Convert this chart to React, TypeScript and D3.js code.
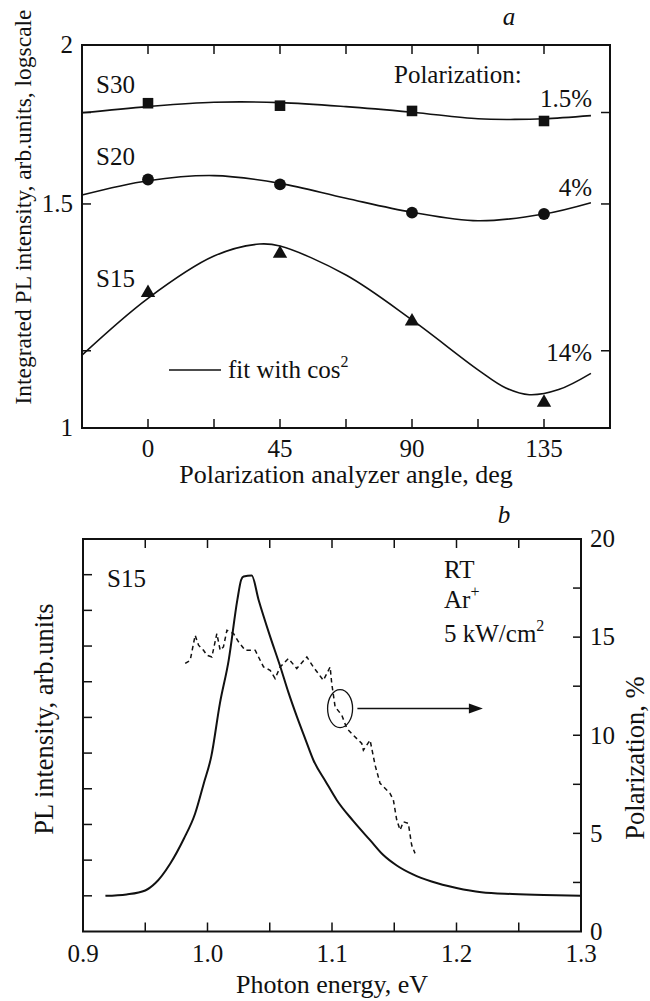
import React from 'react';
import * as d3 from 'd3';

// panel a: integrated PL vs analyzer angle
const angles = [0, 45, 90, 135];
const s30 = [1.8, 1.792, 1.775, 1.743];
const s20 = [1.568, 1.554, 1.4765, 1.473];
const s15 = [1.277, 1.371, 1.213, 1.047];

// cos^2 fit curves: [angle, value]
const fit30: [number, number][] = [[-22.5, 1.769], [0, 1.789], [22.5, 1.803], [45, 1.802], [67.5, 1.789], [90, 1.771], [112.5, 1.75], [125, 1.748], [135, 1.75], [151, 1.76]];
const fit20: [number, number][] = [[-22.5, 1.5245], [0, 1.5645], [22.5, 1.579], [45, 1.557], [67.5, 1.5155], [90, 1.4777], [112.5, 1.455], [135, 1.473], [151, 1.5035]];
const fit15: [number, number][] = [[-22.5, 1.141], [0, 1.2645], [22.5, 1.365], [38, 1.395], [45, 1.39], [67.5, 1.319], [90, 1.216], [112.5, 1.111], [122, 1.075], [130, 1.062], [140, 1.072], [151, 1.104]];

const angleTicks = [0, 22.5, 45, 67.5, 90, 112.5, 135];
const angleLabels = [0, 45, 90, 135];
const logTicks = [1, 1.5, 2];
const logMinor = [1.15, 1.77];

// panel b: PL spectrum and polarization
const plEnergy = [0.918, 0.935, 0.95, 0.958, 0.97, 0.981, 0.99, 0.997, 1.003, 1.01, 1.017, 1.024, 1.027, 1.029, 1.0355, 1.041, 1.05, 1.0585, 1.065, 1.0718, 1.0785, 1.0851, 1.095, 1.1039, 1.117, 1.1306, 1.141, 1.152, 1.165, 1.18, 1.2, 1.22, 1.245, 1.27, 1.3];
const plIntensity = [1.0, 1.04, 1.15, 1.35, 1.9, 2.6, 3.3, 4.15, 4.9, 6.4, 7.6, 9.3, 9.85, 9.95, 9.98, 9.3, 8.3, 7.42, 6.7, 6.02, 5.4, 4.8, 4.2, 3.68, 3.1, 2.56, 2.15, 1.85, 1.6, 1.4, 1.22, 1.1, 1.05, 1.02, 1.0];

const polEnergy = [0.9821, 0.9861, 0.9901, 0.9928, 0.9968, 0.9995, 1.0035, 1.0075, 1.0102, 1.0128, 1.0156, 1.0182, 1.0209, 1.0249, 1.0303, 1.0383, 1.045, 1.0503, 1.0543, 1.0584, 1.065, 1.0717, 1.0798, 1.085, 1.0931, 1.0985, 1.0998, 1.1025, 1.1079, 1.1119, 1.1172, 1.1239, 1.1252, 1.1306, 1.1346, 1.1386, 1.1466, 1.1493, 1.152, 1.1547, 1.1573, 1.1613, 1.164, 1.1667];
const polValue = [13.66, 13.82, 15.1, 14.59, 14.33, 14.08, 13.99, 15.18, 14.33, 14.5, 15.35, 15.27, 15.18, 14.76, 14.33, 14.33, 13.48, 13.31, 12.89, 13.48, 13.91, 13.4, 13.99, 13.48, 12.8, 13.48, 12.63, 11.45, 11.02, 10.35, 10.0, 9.58, 9.24, 9.75, 8.48, 7.55, 7.04, 6.7, 5.68, 5.17, 5.59, 5.51, 4.4, 3.98];

const energyTicks = [0.95, 1.0, 1.05, 1.1, 1.15, 1.2, 1.25];
const energyLabels = [0.9, 1.0, 1.1, 1.2, 1.3];
const plTicks = [1, 2, 3, 4, 5, 6, 7, 8, 9, 10];
const polTicks = [2.5, 5, 7.5, 10, 12.5, 15, 17.5];
const polLabels = [0, 5, 10, 15, 20];

// circled region and arrow (points to right axis)
const circleAt = { e: 1.1065, p: 11.36 };
const arrowFrom = 1.1204;
const arrowTo = 1.2212;

const font = '"Liberation Serif", "Times New Roman", serif';

export default function App() {
  // panel a
  const xA = d3.scaleLinear().domain([-22.5, 157.5]).range([82, 610]);
  const yA = d3.scaleLog().domain([1, 2]).range([428, 45]);
  const fitLine = d3.line<[number, number]>()
    .x(d => xA(d[0]))
    .y(d => yA(d[1]))
    .curve(d3.curveCatmullRom.alpha(0.5));

  // panel b
  const xB = d3.scaleLinear().domain([0.9, 1.3]).range([83, 581]);
  const yL = d3.scaleLinear().domain([0, 11]).range([931.5, 539]);
  const yR = d3.scaleLinear().domain([0, 20]).range([931.5, 539]);

  const plLine = d3.line<number>()
    .x((_, i) => xB(plEnergy[i]))
    .y(d => yL(d))
    .curve(d3.curveMonotoneX);
  const polLine = d3.line<number>()
    .x((_, i) => xB(polEnergy[i]))
    .y(d => yR(d));

  const sq = d3.symbol(d3.symbolSquare, 112)();
  const circ = d3.symbol(d3.symbolCircle, 110)();
  const tri = d3.symbol(d3.symbolTriangle, 90)();

  const [aL, aR] = xA.range();
  const [aB, aT] = yA.range();
  const [bL, bR] = xB.range();
  const [bB, bT] = yL.range();

  const txt = { fontFamily: font, fill: '#111' };
  const ay = yR(circleAt.p);

  return (
    <svg width={650} height={1001} style={{ position: 'absolute', left: 0, top: 0, background: '#fff' }}>
      {/* ---------- panel a ---------- */}
      <text x={509} y={25} fontSize={25} fontStyle="italic" textAnchor="middle" {...txt}>a</text>
      <rect x={aL} y={aT} width={aR - aL} height={aB - aT} fill="none" stroke="#111" strokeWidth={2} />
      {angleTicks.map(t => (
        <g key={'at' + t} stroke="#111" strokeWidth={1.5}>
          <line x1={xA(t)} x2={xA(t)} y1={aT} y2={aT + 9} />
          <line x1={xA(t)} x2={xA(t)} y1={aB} y2={aB - 9} />
        </g>
      ))}
      {[...logTicks, ...logMinor].map(t => (
        <g key={'ly' + t} stroke="#111" strokeWidth={1.5}>
          <line x1={aL} x2={aL + 9} y1={yA(t)} y2={yA(t)} />
          <line x1={aR} x2={aR - 9} y1={yA(t)} y2={yA(t)} />
        </g>
      ))}
      {angleLabels.map(t => (
        <text key={'al' + t} x={xA(t)} y={457} fontSize={25} textAnchor="middle" {...txt}>{t}</text>
      ))}
      {logTicks.map(t => (
        <text key={'ll' + t} x={73} y={yA(t)} dy="0.33em" fontSize={25} textAnchor="end" {...txt}>{t}</text>
      ))}
      <text x={346} y={483} fontSize={26} textAnchor="middle" {...txt}>Polarization analyzer angle, deg</text>
      <text transform={`translate(31,207) rotate(-90)`} fontSize={23.5} textAnchor="middle" {...txt}>
        Integrated PL intensity, arb.units, logscale
      </text>

      <path d={fitLine(fit30) ?? ''} fill="none" stroke="#111" strokeWidth={1.6} />
      <path d={fitLine(fit20) ?? ''} fill="none" stroke="#111" strokeWidth={1.6} />
      <path d={fitLine(fit15) ?? ''} fill="none" stroke="#111" strokeWidth={1.6} />
      {angles.map((a, i) => (
        <g key={'m' + a} fill="#111">
          <path d={sq ?? ''} transform={`translate(${xA(a)},${yA(s30[i])})`} />
          <path d={circ ?? ''} transform={`translate(${xA(a)},${yA(s20[i])})`} />
          <path d={tri ?? ''} transform={`translate(${xA(a)},${yA(s15[i])})`} />
        </g>
      ))}

      <text x={96} y={93} fontSize={25} {...txt}>S30</text>
      <text x={96} y={165} fontSize={25} {...txt}>S20</text>
      <text x={96} y={287} fontSize={25} {...txt}>S15</text>
      <text x={394} y={83} fontSize={25} {...txt}>Polarization:</text>
      <text x={592} y={107} fontSize={25} textAnchor="end" {...txt}>1.5%</text>
      <text x={592} y={196} fontSize={25} textAnchor="end" {...txt}>4%</text>
      <text x={592} y={361} fontSize={25} textAnchor="end" {...txt}>14%</text>
      <line x1={169} x2={221} y1={370} y2={370} stroke="#111" strokeWidth={1.6} />
      <text x={228} y={378} fontSize={25} {...txt}>
        fit with cos<tspan fontSize={16} dy={-11}>2</tspan>
      </text>

      {/* ---------- panel b ---------- */}
      <text x={504} y={523} fontSize={25} fontStyle="italic" textAnchor="middle" {...txt}>b</text>
      <rect x={bL} y={bT} width={bR - bL} height={bB - bT} fill="none" stroke="#111" strokeWidth={2} />
      {energyTicks.map(t => (
        <g key={'et' + t} stroke="#111" strokeWidth={1.5}>
          <line x1={xB(t)} x2={xB(t)} y1={bT} y2={bT + 9} />
          <line x1={xB(t)} x2={xB(t)} y1={bB} y2={bB - 9} />
        </g>
      ))}
      {plTicks.map(t => (
        <line key={'pt' + t} x1={bL} x2={bL + 9} y1={yL(t)} y2={yL(t)} stroke="#111" strokeWidth={1.5} />
      ))}
      {polTicks.map(t => (
        <line key={'rt' + t} x1={bR} x2={bR - 8} y1={yR(t)} y2={yR(t)} stroke="#111" strokeWidth={1.5} />
      ))}
      {energyLabels.map(t => (
        <text key={'el' + t} x={xB(t)} y={962} fontSize={25} textAnchor="middle" {...txt}>{t.toFixed(1)}</text>
      ))}
      {polLabels.map(t => (
        <text key={'rl' + t} x={590} y={yR(t)} dy="0.33em" fontSize={25} {...txt}>{t}</text>
      ))}
      <text x={(bL + bR) / 2} y={993} fontSize={26} textAnchor="middle" {...txt}>Photon energy, eV</text>
      <text transform={`translate(53,719) rotate(-90)`} fontSize={26.5} textAnchor="middle" {...txt}>PL intensity, arb.units</text>
      <text transform={`translate(644,758) rotate(-90)`} fontSize={26.5} textAnchor="middle" {...txt}>Polarization, %</text>

      <path d={plLine(plIntensity) ?? ''} fill="none" stroke="#111" strokeWidth={2} />
      <path d={polLine(polValue) ?? ''} fill="none" stroke="#111" strokeWidth={1.5} strokeDasharray="4.5 3.5" />

      <ellipse cx={xB(circleAt.e)} cy={ay} rx={12.5} ry={19} fill="none" stroke="#111" strokeWidth={1.3} />
      <line x1={xB(arrowFrom)} x2={xB(arrowTo) - 12} y1={ay} y2={ay} stroke="#111" strokeWidth={1.4} />
      <path d={`M${xB(arrowTo)},${ay} l-14,-5 l0,10 z`} fill="#111" />

      <text x={107} y={587} fontSize={25} {...txt}>S15</text>
      <text x={444} y={578} fontSize={25} {...txt}>RT</text>
      <text x={444} y={608} fontSize={25} {...txt}>
        Ar<tspan fontSize={16} dy={-11}>+</tspan>
      </text>
      <text x={444} y={642} fontSize={25} {...txt}>
        5 kW/cm<tspan fontSize={16} dy={-11}>2</tspan>
      </text>
    </svg>
  );
}
